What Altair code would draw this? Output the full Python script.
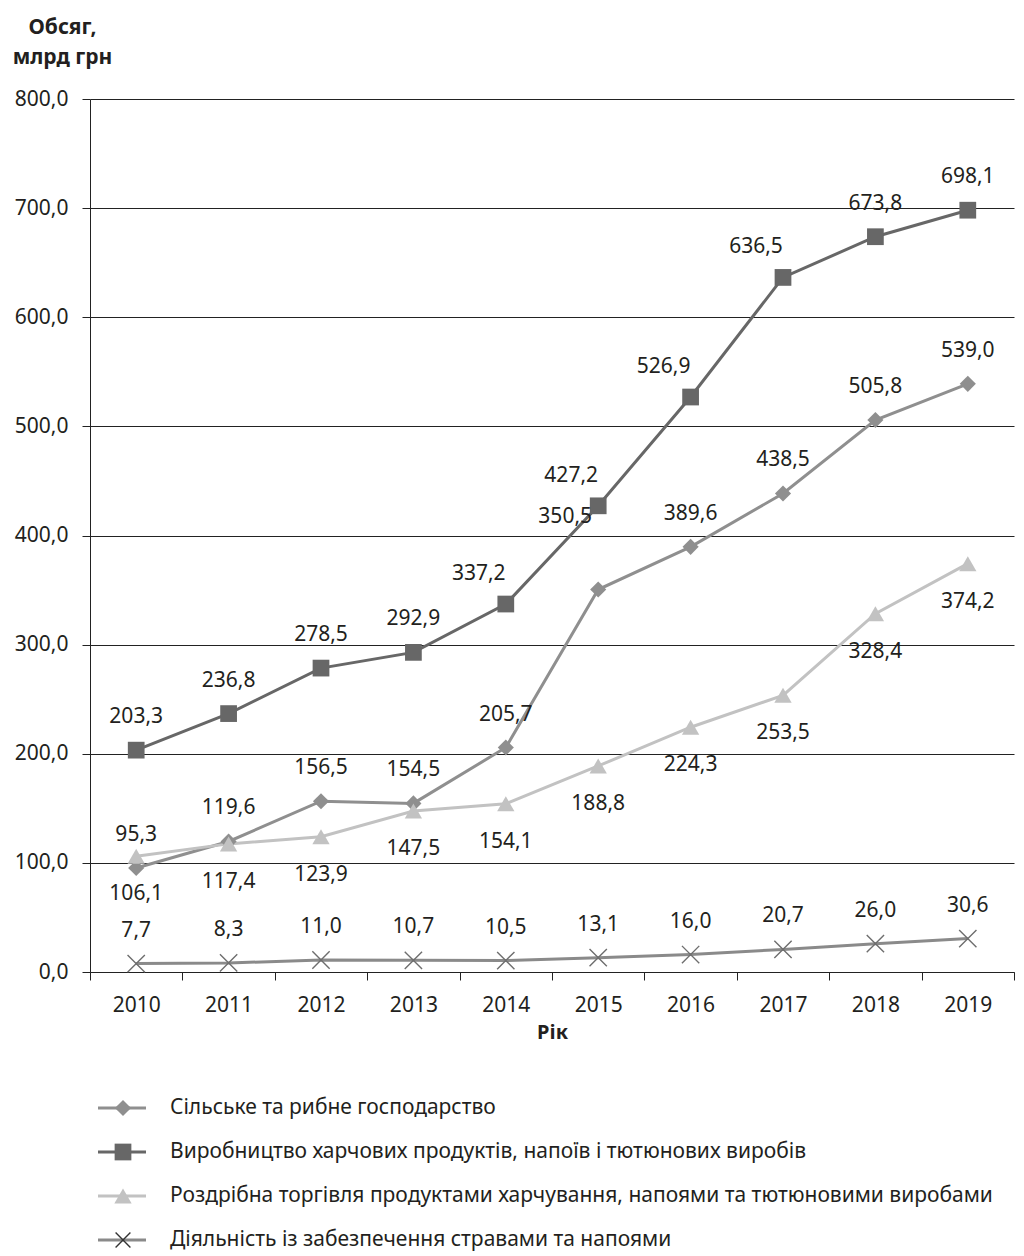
import altair as alt
import pandas as pd

years = [2010, 2011, 2012, 2013, 2014, 2015, 2016, 2017, 2018, 2019]
series_names = [
    "Сільське та рибне господарство",
    "Виробництво харчових продуктів, напоїв і тютюнових виробів",
    "Роздрібна торгівля продуктами харчування, напоями та тютюновими виробами",
    "Діяльність із забезпечення стравами та напоями",
]
agri = [95.3, 119.6, 156.5, 154.5, 205.7, 350.5, 389.6, 438.5, 505.8, 539.0]
food = [203.3, 236.8, 278.5, 292.9, 337.2, 427.2, 526.9, 636.5, 673.8, 698.1]
retail = [106.1, 117.4, 123.9, 147.5, 154.1, 188.8, 224.3, 253.5, 328.4, 374.2]
catering = [7.7, 8.3, 11.0, 10.7, 10.5, 13.1, 16.0, 20.7, 26.0, 30.6]

# label placement per point (category, not coordinates)
agri_place = ["above"] * 5 + ["farleft"] + ["above"] * 4
food_place = ["above"] * 4 + ["aboveleft"] * 4 + ["above"] * 2
retail_place = ["below"] * 10
catering_place = ["above"] * 10

line_colors = ["#8f8f8f", "#676767", "#c2c2c2", "#8a8a8a"]
FONT = "Noto Sans"
TXT = "#231f20"
FS = 21

rows = []
for name, vals, places in zip(series_names, [agri, food, retail, catering],
                              [agri_place, food_place, retail_place, catering_place]):
    for y, v, p in zip(years, vals, places):
        rows.append({"series": name, "year": y, "value": v,
                     "label": f"{v:.1f}".replace(".", ","), "place": p})
df = pd.DataFrame(rows)

x_enc = alt.X("year:O", scale=alt.Scale(type="band", paddingInner=0, paddingOuter=0),
              axis=alt.Axis(labelAngle=0, tickBand="extent", tickSize=8, tickColor="#222",
                            domainColor="#222", labelFontSize=FS, labelFont=FONT, labelColor=TXT,
                            labelPadding=14, title="Рік", titleFont=FONT, titleFontSize=20,
                            titleFontWeight="bold", titleColor=TXT, titlePadding=7, grid=False))
y_enc = alt.Y("value:Q", scale=alt.Scale(domain=[0, 800], nice=False),
              axis=alt.Axis(values=list(range(0, 801, 100)),
                            labelExpr="replace(format(datum.value, '.1f'), '.', ',')",
                            grid=True, gridColor="#222", gridWidth=1, domainColor="#222",
                            tickColor="#222", tickSize=8, labelFontSize=FS, labelFont=FONT,
                            labelColor=TXT, labelPadding=14,
                            title=["Обсяг,", "млрд грн"], titleAngle=0, titleAlign="center",
                            titleBaseline="middle", titleX=-28, titleY=-72, titleFont=FONT,
                            titleFontSize=21, titleFontWeight="bold", titleColor=TXT,
                            titleLineHeight=30))

color_scale = alt.Scale(domain=series_names, range=line_colors)
shape_scale = alt.Scale(domain=series_names[:3], range=["diamond", "square", "triangle-up"])
size_scale = alt.Scale(domain=series_names[:3], range=[260, 300, 300])
marker_colors = alt.Scale(domain=series_names[:3], range=["#8c8c8c", "#6a6a6a", "#c0c0c0"])
XPATH = "M-1,-1L1,1M-1,1L1,-1"

base = alt.Chart(df).encode(x=x_enc, y=y_enc)

lines = base.mark_line(strokeWidth=3).encode(
    color=alt.Color("series:N", scale=color_scale, legend=None),
    detail="series:N")
pts = base.transform_filter(
    alt.FieldOneOfPredicate(field="series", oneOf=series_names[:3])
).mark_point(filled=True, opacity=1).encode(
    shape=alt.Shape("series:N", scale=shape_scale, legend=None),
    color=alt.Color("series:N", scale=marker_colors, legend=None),
    size=alt.Size("series:N", scale=size_scale, legend=None))
xpts = base.transform_filter(alt.datum.series == series_names[3]).mark_point(
    shape=XPATH, filled=False, size=300, strokeWidth=1.4, color="#6e6e6e", opacity=1)

def labels(place, dx, dy):
    return base.transform_filter(alt.datum.place == place).mark_text(
        dx=dx, dy=dy, fontSize=FS, font=FONT, color=TXT).encode(text="label:N")

main = alt.layer(
    lines, pts, xpts,
    labels("above", 0, -33),
    labels("aboveleft", -27, -30),
    labels("farleft", -33, -73),
    labels("below", 0, 38),
).properties(width=924, height=873)

leg_df = pd.DataFrame({"series": series_names})
ly = alt.Y("series:N", sort=series_names, scale=alt.Scale(type="point", padding=0.25), axis=None)
lbase = alt.Chart(leg_df).encode(y=ly)
lrule = lbase.mark_rule(strokeWidth=3).encode(
    x=alt.value(8), x2=alt.value(56),
    color=alt.Color("series:N", scale=color_scale, legend=None))
lpts = lbase.transform_filter(
    alt.FieldOneOfPredicate(field="series", oneOf=series_names[:3])
).mark_point(filled=True, opacity=1).encode(
    x=alt.value(33),
    shape=alt.Shape("series:N", scale=shape_scale, legend=None),
    color=alt.Color("series:N", scale=marker_colors, legend=None),
    size=alt.Size("series:N", scale=alt.Scale(domain=series_names[:3], range=[200, 230, 220]), legend=None))
lx = lbase.transform_filter(alt.datum.series == series_names[3]).mark_point(
    shape=XPATH, filled=False, size=220, strokeWidth=1.4, color="#333", opacity=1).encode(x=alt.value(33))
ltext = lbase.mark_text(align="left", baseline="middle", fontSize=FS, font=FONT, color=TXT).encode(
    x=alt.value(80), text="series:N")
legend = alt.layer(lrule, lpts, lx, ltext).properties(width=924, height=154)

chart = alt.vconcat(main, legend, spacing=55).properties(
    padding={"top": 8, "left": 4, "right": 0, "bottom": 0},
    background="white",
).configure_view(strokeWidth=0)

chart.save("out.html", embed_options={"renderer": "svg", "actions": False})
